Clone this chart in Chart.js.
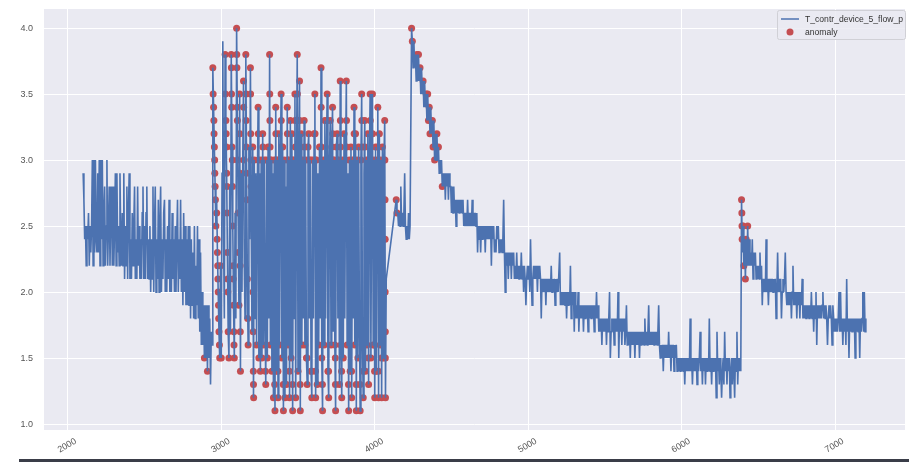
<!DOCTYPE html>
<html><head><meta charset="utf-8">
<script src="https://cdn.jsdelivr.net/npm/chart.js@4.4.0/dist/chart.umd.min.js"></script>
<style>html,body{margin:0;padding:0;background:#fff}canvas{display:block}</style>
</head><body>
<canvas id="c" width="909" height="462"></canvas>
<script>
const seriesName = 'T_contr_device_5_flow_p';
const anomalyName = 'anomaly';
const xTicks = [2000, 3000, 4000, 5000, 6000, 7000];
const yTicks = [1.0, 1.5, 2.0, 2.5, 3.0, 3.5, 4.0];

// segment A : first calm part (x 2100..2940)
const segAStart = 2100, segAStep = 5;
const segAValues = [
2.9,2.7,2.4,2.5,2.2,2.5,2.4,2.6,2.2,2.5,2.3,2.5,3.0,2.2,3.0,2.3,3.0,2.4,2.3,2.9,
2.3,3.0,2.2,3.0,2.4,3.0,2.2,2.6,2.8,2.2,2.5,3.0,2.2,2.5,2.8,2.2,2.6,2.8,2.2,2.8,
2.2,2.5,2.9,2.2,2.9,2.3,2.5,2.2,2.9,2.4,2.2,2.6,2.2,2.9,2.1,2.5,2.2,2.8,2.1,2.6,
2.9,2.1,2.4,2.1,2.6,2.2,2.5,2.8,2.1,2.4,2.1,2.8,2.2,2.5,2.1,2.4,2.1,2.6,2.8,2.1,
2.5,2.1,2.6,2.8,2.1,2.4,2.1,2.5,2.0,2.4,2.1,2.8,2.0,2.5,2.8,2.0,2.4,2.1,2.7,2.0,
2.5,2.8,2.0,2.4,2.1,2.6,2.7,2.0,2.4,2.0,2.5,2.1,2.7,2.0,2.4,2.0,2.6,2.1,2.4,2.0,
2.5,2.0,2.4,2.7,2.0,2.4,2.1,2.7,2.0,2.4,1.9,2.6,2.0,2.5,1.9,2.4,1.9,2.5,1.9,2.5,
1.8,2.4,1.9,2.3,1.8,2.5,1.8,2.2,1.9,2.5,1.8,2.4,1.7,2.3,1.6,2.0,1.6,1.9,1.5,1.9,
1.5,1.9,1.4,1.9,1.5,1.8,1.3,1.7,1.6
];

// segment B : chaotic part (x 2945..4075)
const segBStart = 2945, segBStep = 5;
const segBValues = [
3.7,3.4,3.1,2.8,2.5,2.7,2.3,2.0,1.7,1.5,
2.2,1.5,2.9,3.9,2.4,1.8,3.8,3.3,2.9,2.3,
1.7,1.5,2.8,1.7,3.8,3.1,2.5,1.9,1.5,2.6,
1.8,4.0,3.3,2.6,1.9,3.5,1.4,2.9,2.0,3.0,
3.6,2.2,1.8,3.8,2.9,2.1,1.6,3.1,2.4,3.7,
2.6,1.7,3.1,1.2,3.0,1.8,2.9,1.6,2.8,3.4,
1.5,2.9,1.4,3.0,1.5,3.2,1.6,3.0,1.8,1.3,
3.0,1.5,3.1,1.8,3.8,1.6,3.0,1.4,2.9,1.2,
3.0,1.1,3.4,1.4,3.0,1.2,3.2,1.6,3.0,3.5,
1.5,3.1,1.1,3.0,1.2,2.8,1.3,3.4,1.6,3.0,
1.2,3.3,1.5,3.2,1.1,3.0,1.8,3.5,1.2,2.9,
3.8,1.4,3.0,3.6,1.1,3.2,1.6,3.0,1.8,3.3,
1.6,3.0,1.5,1.3,3.1,3.2,1.8,3.0,1.4,1.2,
3.0,1.8,3.2,3.5,1.2,3.0,1.3,2.9,1.6,3.1,
1.8,3.7,1.5,1.1,3.0,1.6,3.3,1.8,3.0,3.5,
1.4,1.2,3.0,3.3,1.6,3.1,3.4,1.7,3.0,1.6,
1.1,3.1,3.2,1.8,3.0,1.3,3.6,1.6,1.2,3.0,
1.5,3.2,1.8,3.0,3.6,1.6,2.9,1.1,3.0,1.4,
3.1,1.2,3.0,1.8,3.4,1.6,3.2,1.1,3.0,1.5,
3.1,1.8,1.1,3.0,3.5,1.6,1.2,2.9,3.3,1.4,
3.0,1.6,3.2,1.3,3.0,3.5,1.5,2.9,3.5,1.6,
3.0,1.2,3.1,1.4,3.0,3.4,1.2,3.2,1.6,3.0,
1.2,3.1,1.5,3.0,3.3,1.2,2.1
];

// segment C : gap, peak, decay, second jump (x 4080..7200)
const segCStart = 4080, segCStep = 5;
const segCValues = [
null,null,null,null,null,null,null,null,null,null,null,null,
2.7,2.6,2.6,2.5,2.6,2.5,2.8,2.5,2.6,2.5,2.6,2.9,2.5,2.4,2.5,2.4,2.6,2.4,2.5,2.5,
4.0,3.9,3.7,3.9,3.7,3.8,3.6,3.8,3.6,3.8,3.6,3.7,3.5,3.7,3.5,3.6,3.4,3.6,3.4,3.5,
3.3,3.5,3.3,3.4,3.2,3.4,3.2,3.3,3.1,3.3,3.0,3.2,3.0,3.2,3.0,3.1,2.9,3.0,2.9,3.0,
2.8,2.9,2.8,2.9,2.7,2.9,2.8,2.9,2.7,2.9,2.8,2.8,2.6,2.8,2.6,2.8,2.6,2.7,2.5,2.7,
2.6,2.7,2.6,2.7,2.6,2.7,2.6,2.7,2.5,2.6,2.5,2.6,2.5,2.7,2.5,2.6,2.5,2.6,2.5,2.7,
2.5,2.6,2.5,2.6,2.5,2.6,2.3,2.5,2.4,2.5,2.3,2.5,2.4,2.5,2.4,2.5,2.3,2.5,2.4,2.5,
2.4,2.5,2.4,2.5,2.2,2.5,2.4,2.5,2.3,2.4,2.3,2.5,2.4,2.5,2.3,2.4,2.3,2.4,2.3,2.4,
2.7,2.3,2.0,2.3,2.2,2.3,2.1,2.3,2.2,2.3,2.1,2.3,2.2,2.3,2.1,2.2,2.1,2.3,2.1,2.2,
2.1,2.2,2.1,2.3,2.1,2.2,2.0,2.2,2.1,1.9,2.1,2.2,2.1,2.2,2.0,2.4,2.1,1.9,2.1,2.2,
2.1,2.2,2.1,2.2,2.0,2.2,2.1,2.2,2.1,1.8,2.1,2.0,2.1,2.0,2.1,1.9,2.1,2.0,2.1,2.0,
2.1,2.0,2.2,2.0,2.1,2.0,2.1,1.9,2.1,2.0,2.1,2.0,2.0,2.3,1.9,2.0,1.9,2.0,1.9,2.0,
1.9,2.0,1.8,2.0,1.9,2.0,1.9,2.2,1.8,2.0,1.9,2.0,1.7,2.0,1.8,1.9,1.8,2.0,1.7,1.9,
1.8,1.9,1.8,1.9,1.7,1.9,1.8,1.9,1.8,1.9,1.7,1.9,1.8,1.9,1.8,1.9,1.8,1.9,1.7,1.9,
1.8,2.0,1.8,1.9,1.7,1.8,1.7,1.8,1.6,1.8,1.7,1.8,1.7,1.8,1.6,1.8,1.7,1.8,2.0,1.5,
1.7,1.8,1.7,1.8,1.6,1.8,1.7,1.8,1.7,2.0,1.5,1.8,1.7,1.8,1.6,1.8,1.7,1.8,1.6,1.7,
1.9,1.6,1.7,1.6,1.7,1.5,1.7,1.6,1.7,1.6,1.7,1.5,1.7,1.6,1.7,1.6,1.7,1.5,1.7,1.6,
1.7,1.6,1.7,1.6,1.8,1.6,1.7,1.6,1.7,1.9,1.6,1.7,1.6,1.7,1.6,1.7,1.6,1.7,1.6,1.7,
1.6,1.7,1.9,1.6,1.5,1.6,1.5,1.6,1.4,1.6,1.5,1.6,1.5,1.6,1.5,1.7,1.5,1.6,1.4,1.6,
1.5,1.6,1.4,1.6,1.5,1.6,1.4,1.5,1.4,1.5,1.4,1.5,1.4,1.5,1.4,1.5,1.3,1.5,1.4,1.5,
1.4,1.5,1.4,1.8,1.4,1.5,1.3,1.5,1.4,1.5,1.4,1.5,1.3,1.5,1.4,1.5,1.7,1.4,1.5,1.3,
1.5,1.4,1.5,1.3,1.5,1.4,1.5,1.4,1.8,1.4,1.5,1.3,1.5,1.4,1.5,1.4,1.5,1.2,1.7,1.4,
1.5,1.3,1.5,1.4,1.2,1.4,1.5,1.3,1.7,1.4,1.5,1.3,1.5,1.4,1.5,1.2,1.4,1.5,1.3,1.5,
1.4,1.2,1.5,1.4,1.7,1.3,1.5,1.4,1.5,1.4,
2.7,2.3,2.5,2.2,2.4,2.1,2.4,2.2,2.5,2.2,2.4,2.2,2.3,2.2,2.4,2.1,2.3,2.2,2.3,2.1,
2.2,2.1,2.2,2.1,2.3,2.1,2.2,1.9,2.1,2.0,2.1,2.0,2.4,2.0,2.1,1.9,2.1,2.0,2.1,2.0,
2.1,2.0,2.1,2.0,2.1,1.8,2.0,2.3,2.0,2.1,2.0,2.1,1.8,2.0,2.1,2.0,2.1,2.3,2.0,1.9,
2.0,1.9,2.0,1.9,2.0,1.8,2.0,2.2,1.9,2.0,1.9,2.0,1.8,2.0,1.9,2.0,1.8,2.0,1.9,2.1,
1.8,1.9,1.8,1.9,1.8,1.9,1.8,1.9,1.8,1.9,1.8,2.0,1.8,1.9,1.7,1.9,1.8,2.0,1.6,1.9,
1.8,1.9,1.8,1.9,1.8,1.9,2.0,1.8,1.9,1.8,1.9,1.8,1.6,1.8,1.9,1.8,1.9,1.8,1.6,1.9,
1.8,1.7,1.8,1.7,1.8,1.7,1.8,2.0,1.7,2.0,1.7,1.8,1.6,1.8,1.7,1.8,1.6,2.1,1.7,1.8,
1.5,1.8,1.7,1.8,1.7,1.8,1.7,1.8,1.5,1.8,1.7,1.8,1.7,1.8,1.5,1.8,1.7,1.8,2.0,1.7,
2.0,1.7,1.8
];

// anomaly points [x, value]
const anomalies = [
[2890,1.5],[2910,1.4],
[2945,3.7],[2947,3.5],[2950,3.4],[2952,3.3],[2953,3.2],[2955,3.1],[2957,3.0],[2958,2.9],[2960,2.8],[2962,2.7],
[2965,2.5],[2970,2.6],[2973,2.4],[2975,2.3],[2977,2.2],[2978,2.1],[2980,2.0],[2982,1.9],[2983,1.8],[2985,1.7],[2988,1.6],[2990,1.5],
[2995,2.2],[3000,1.5],
[3025,3.8],[3027,3.5],[3030,3.3],[3032,3.2],[3033,3.1],[3035,2.9],[3037,2.8],[3038,2.6],[3040,2.3],[3042,2.1],[3043,2.0],[3045,1.7],[3050,1.5],
[3065,3.8],[3066,3.7],[3067,3.5],[3068,3.4],[3070,3.1],[3072,3.0],[3073,2.8],[3075,2.5],[3077,2.2],[3078,2.1],[3080,1.9],[3082,1.7],[3083,1.6],[3085,1.5],
[3100,4.0],[3101,3.8],[3102,3.7],[3104,3.4],[3105,3.3],[3107,3.0],[3110,2.6],[3112,2.3],[3115,1.9],
[3120,3.5],[3121,3.2],[3122,2.9],[3123,2.2],[3124,1.7],[3125,1.4],
[3145,3.6],[3146,3.4],[3147,3.0],[3160,3.8],[3161,3.5],[3162,3.3],[3163,3.1],[3165,2.9],[3167,2.7],[3170,2.1],[3172,1.8],[3175,1.6],
[3190,3.7],[3191,3.5],[3192,3.2],[3193,3.0],[3194,2.8],
[3205,3.1],[3207,2.0],[3208,1.7],[3209,1.4],[3210,1.3],[3211,1.2],[3215,3.0],[3230,1.6],
[3240,3.4],[3241,3.2],[3242,3.0],[3245,1.5],[3255,1.4],[3260,3.0],[3265,1.5],[3270,3.2],[3271,3.1],[3275,1.6],[3280,3.0],[3288,1.4],[3290,1.3],
[3295,3.0],[3300,1.5],[3305,3.1],[3320,1.6],[3325,3.0],
[3315,3.8],[3316,3.5],[3317,3.3],[3318,3.1],[3319,3.0],[3330,1.4],[3340,1.2],[3348,1.3],[3350,1.1],
[3345,3.0],[3360,1.4],[3365,3.0],[3375,3.2],[3380,1.6],[3385,3.0],
[3355,3.4],[3356,3.2],[3357,3.0],[3369,1.4],[3370,1.2],
[3390,3.5],[3391,3.3],[3392,3.1],[3395,1.5],[3400,3.1],[3404,1.3],[3405,1.1],[3410,3.0],[3415,1.2],[3425,1.3],[3435,1.6],[3440,3.0],
[3430,3.4],[3431,3.2],[3432,3.0],[3444,1.4],[3445,1.2],[3450,3.3],[3455,1.5],
[3460,3.2],[3461,3.0],[3464,1.3],[3465,1.1],[3470,3.0],
[3480,3.5],[3481,3.3],[3482,3.1],[3485,1.2],
[3495,3.8],[3496,3.5],[3497,3.3],[3498,3.0],[3500,1.4],[3505,3.0],[3510,3.6],[3511,3.3],[3512,3.0],[3514,1.3],[3515,1.1],
[3520,3.2],[3525,1.6],[3530,3.0],
[3540,3.3],[3541,3.1],[3545,1.6],[3550,3.0],[3555,1.5],[3559,1.5],[3560,1.3],[3565,3.1],[3570,3.2],[3571,3.0],[3580,3.0],[3585,1.4],[3589,1.4],[3590,1.2],
[3595,3.0],[3605,3.2],[3610,3.5],[3611,3.2],[3612,3.0],[3614,1.4],[3615,1.2],[3620,3.0],[3625,1.3],[3635,1.6],
[3640,3.1],[3650,3.7],[3651,3.4],[3652,3.1],[3655,1.5],[3659,1.3],[3660,1.1],[3665,3.0],[3670,1.6],[3675,3.3],[3685,3.0],
[3690,3.5],[3691,3.3],[3692,3.0],[3695,1.4],[3699,1.4],[3700,1.2],[3705,3.0],
[3710,3.3],[3711,3.0],[3715,1.6],[3720,3.1],[3725,3.4],[3726,3.2],[3727,3.0],[3735,3.0],[3740,1.6],[3743,1.5],[3744,1.3],[3745,1.1],
[3750,3.1],[3755,3.2],[3756,3.0],[3765,3.0],[3770,1.3],[3775,3.6],[3776,3.3],[3777,3.1],[3780,1.6],[3784,1.4],[3785,1.2],[3790,3.0],
[3795,1.5],[3800,3.2],[3810,3.0],[3815,3.6],[3816,3.3],[3817,3.1],[3820,1.6],[3829,1.3],[3830,1.1],[3835,3.0],[3840,1.4],
[3845,3.1],[3849,1.4],[3850,1.2],[3855,3.0],[3865,3.4],[3866,3.2],[3867,3.0],[3870,1.6],[3875,3.2],[3879,1.3],[3880,1.1],[3885,3.0],[3890,1.5],
[3895,3.1],[3904,1.3],[3905,1.1],[3910,3.0],[3915,3.5],[3916,3.3],[3917,3.1],[3920,1.6],[3924,1.4],[3925,1.2],[3935,3.3],[3936,3.1],[3940,1.4],
[3945,3.0],[3950,1.6],[3955,3.2],[3959,1.5],[3960,1.3],[3965,3.0],[3970,3.5],[3971,3.3],[3972,3.0],[3975,1.5],[3985,3.5],[3986,3.2],[3990,1.6],
[3995,3.0],[3998,1.6],[3999,1.4],[4000,1.2],[4005,3.1],[4010,1.4],[4015,3.0],[4020,3.4],[4021,3.1],[4024,1.4],[4025,1.2],[4030,3.2],[4035,1.6],[4040,3.0],
[4044,1.5],[4045,1.2],[4050,3.1],[4055,1.5],[4060,3.0],
[4065,3.3],[4066,3.0],[4067,2.7],[4068,2.4],[4068,2.0],[4069,1.7],[4069,1.5],[4070,1.2],
[4140,2.7],[4145,2.6],
[4240,4.0],[4245,3.9],[4275,3.8],[4285,3.8],[4295,3.7],[4315,3.6],[4335,3.5],[4345,3.5],[4355,3.4],
[4350,3.3],[4375,3.3],[4360,3.2],[4405,3.2],[4380,3.1],[4415,3.1],[4390,3.0],[4440,2.8],
[6390,2.7],[6392,2.6],[6393,2.5],[6394,2.4],[6400,2.5],[6405,2.2],[6415,2.1],[6420,2.4],[6430,2.5]
];

function seg(start, step, vals) {
  return vals.map((v, i) => ({ x: start + i * step, y: v }));
}
const seriesData = [
  ...seg(segAStart, segAStep, segAValues),
  ...seg(segBStart, segBStep, segBValues),
  ...seg(segCStart, segCStep, segCValues)
];
const anomalyData = anomalies.map(p => ({ x: p[0], y: p[1] }));

const LINE_COLOR = '#4C72B0';
const DOT_COLOR = '#C44E52';
const FONT = "'Liberation Sans', Arial, sans-serif";

const bgPlugin = {
  id: 'bg',
  beforeDraw(chart) {
    const { ctx, chartArea: a } = chart;
    ctx.save();
    ctx.fillStyle = '#EAEAF2';
    ctx.fillRect(a.left, a.top, a.right - a.left, a.bottom - a.top);
    ctx.restore();
  },
  afterDraw(chart) {
    const { ctx } = chart;
    ctx.save();
    // legend box
    const bx = 777.5, by = 10.5, bw = 128, bh = 29;
    ctx.fillStyle = 'rgba(234,234,242,0.85)';
    ctx.strokeStyle = '#D0D0D6';
    ctx.lineWidth = 1;
    ctx.beginPath();
    if (ctx.roundRect) ctx.roundRect(bx, by, bw, bh, 2); else ctx.rect(bx, by, bw, bh);
    ctx.fill(); ctx.stroke();
    ctx.strokeStyle = LINE_COLOR;
    ctx.lineWidth = 1.5;
    ctx.beginPath(); ctx.moveTo(781, 19); ctx.lineTo(799, 19); ctx.stroke();
    ctx.fillStyle = DOT_COLOR;
    ctx.beginPath(); ctx.arc(790, 32, 3.5, 0, Math.PI * 2); ctx.fill();
    ctx.fillStyle = '#333';
    ctx.font = '8.6px ' + FONT;
    ctx.textBaseline = 'middle';
    ctx.textAlign = 'left';
    ctx.fillText(seriesName, 805, 19.5);
    ctx.fillText(anomalyName, 805, 32.5);
    // frame line at the bottom of the picture
    ctx.fillStyle = '#3a3d48';
    ctx.fillRect(19, 459, 890, 3);
    ctx.restore();
  }
};

new Chart(document.getElementById('c'), {
  type: 'scatter',
  data: {
    datasets: [
      {
        label: seriesName,
        data: seriesData,
        showLine: true,
        spanGaps: true,
        borderColor: LINE_COLOR,
        backgroundColor: LINE_COLOR,
        borderWidth: 1.6,
        pointRadius: 0,
        pointHoverRadius: 0,
        tension: 0,
        order: 0
      },
      {
        label: anomalyName,
        data: anomalyData,
        showLine: false,
        backgroundColor: DOT_COLOR,
        borderColor: DOT_COLOR,
        borderWidth: 0,
        pointRadius: 3.5,
        order: 1
      }
    ]
  },
  options: {
    responsive: false,
    animation: false,
    events: [],
    layout: { padding: { top: 9, right: 2, left: 0, bottom: 0 } },
    plugins: { legend: { display: false }, tooltip: { enabled: false } },
    scales: {
      x: {
        type: 'linear',
        min: 1845, max: 7455,
        afterBuildTicks(s) { s.ticks = xTicks.map(v => ({ value: v })); },
        afterFit(s) { s.height = 32; s.paddingLeft = 0; s.paddingRight = 0; },
        grid: { color: '#FFFFFF', lineWidth: 1, drawTicks: false },
        border: { display: false },
        ticks: {
          autoSkip: false,
          minRotation: 30, maxRotation: 30,
          labelOffset: 8,
          padding: 6,
          color: '#555',
          font: { family: FONT, size: 9 },
          callback: v => String(v)
        }
      },
      y: {
        type: 'linear',
        min: 0.955, max: 4.145,
        afterBuildTicks(s) { s.ticks = yTicks.map(v => ({ value: v })); },
        afterFit(s) { s.width = 44; s.paddingTop = 0; s.paddingBottom = 0; },
        grid: { color: '#FFFFFF', lineWidth: 1, drawTicks: false },
        border: { display: false },
        ticks: {
          padding: 11,
          color: '#555',
          font: { family: FONT, size: 9 },
          callback: v => Number(v).toFixed(1)
        }
      }
    }
  },
  plugins: [bgPlugin]
});
</script>
</body></html>
